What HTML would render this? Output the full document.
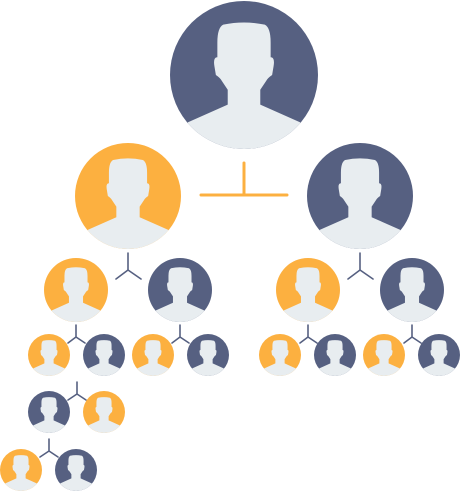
<!DOCTYPE html><html><head><style>body{margin:0;background:#fff}svg{display:block}</style></head><body>
<svg width="461" height="493" viewBox="0 0 461 493" xmlns="http://www.w3.org/2000/svg">
<defs>
<clipPath id="c"><circle cx="50" cy="50" r="50"/></clipPath>
<g id="p"><path clip-path="url(#c)" fill="#e8edf0" d="M36,16 Q50,13 64,16 Q68,18 68,28 L68,38 Q71,38 70,44 L69,50 Q66,52 65,54 L61,60 L61,70 L88,82 L88,100 L12,100 L12,82 L39,70 L39,60 L35,54 Q34,52 31,50 L30,44 Q29,38 32,38 L32,28 Q32,18 36,16 Z"/></g>
<g id="n"><circle cx="50" cy="50" r="50" fill="#566081"/><use href="#p"/></g>
<g id="o"><circle cx="50" cy="50" r="50" fill="#fcb040"/><use href="#p"/></g>
</defs>
<g>
<use href="#n" transform="translate(170,1) scale(1.48)"/>
<use href="#o" transform="translate(75,143) scale(1.06)"/>
<use href="#n" transform="translate(307,143) scale(1.06)"/>
<path d="M244,163 V195 M201,195 H287" stroke="#fcb040" stroke-width="3" stroke-linecap="round" fill="none"/>
<use href="#o" transform="translate(44,258) scale(0.64)"/>
<use href="#n" transform="translate(148,258) scale(0.64)"/>
<use href="#o" transform="translate(276,258) scale(0.64)"/>
<use href="#n" transform="translate(380,258) scale(0.64)"/>
<g stroke="#566081" stroke-width="1.6" fill="none" stroke-linecap="round">
<path d="M128,253 V270 L116,279 M128,270 L141,279"/>
<path d="M360,253 V270 L348,279 M360,270 L373,279"/>
<path d="M76,325 V337 L68,343 M76,337 L85,343"/>
<path d="M180,325 V337 L172,343 M180,337 L189,343"/>
<path d="M308,325 V337 L300,343 M308,337 L317,343"/>
<path d="M412,325 V337 L404,343 M412,337 L421,343"/>
<path d="M77,382 V394 L68,400 M77,394 L86,400"/>
<path d="M49,439 V451 L40,457 M49,451 L58,457"/>
</g>
<use href="#o" transform="translate(28,334) scale(0.42)"/>
<use href="#n" transform="translate(83,334) scale(0.42)"/>
<use href="#o" transform="translate(132,334) scale(0.42)"/>
<use href="#n" transform="translate(187,334) scale(0.42)"/>
<use href="#o" transform="translate(259,334) scale(0.42)"/>
<use href="#n" transform="translate(314,334) scale(0.42)"/>
<use href="#o" transform="translate(363,334) scale(0.42)"/>
<use href="#n" transform="translate(418,334) scale(0.42)"/>
<use href="#n" transform="translate(28,391) scale(0.42)"/>
<use href="#o" transform="translate(83,391) scale(0.42)"/>
<use href="#o" transform="translate(0,449) scale(0.42)"/>
<use href="#n" transform="translate(55,449) scale(0.42)"/>
</g>
</svg>
</body></html>
